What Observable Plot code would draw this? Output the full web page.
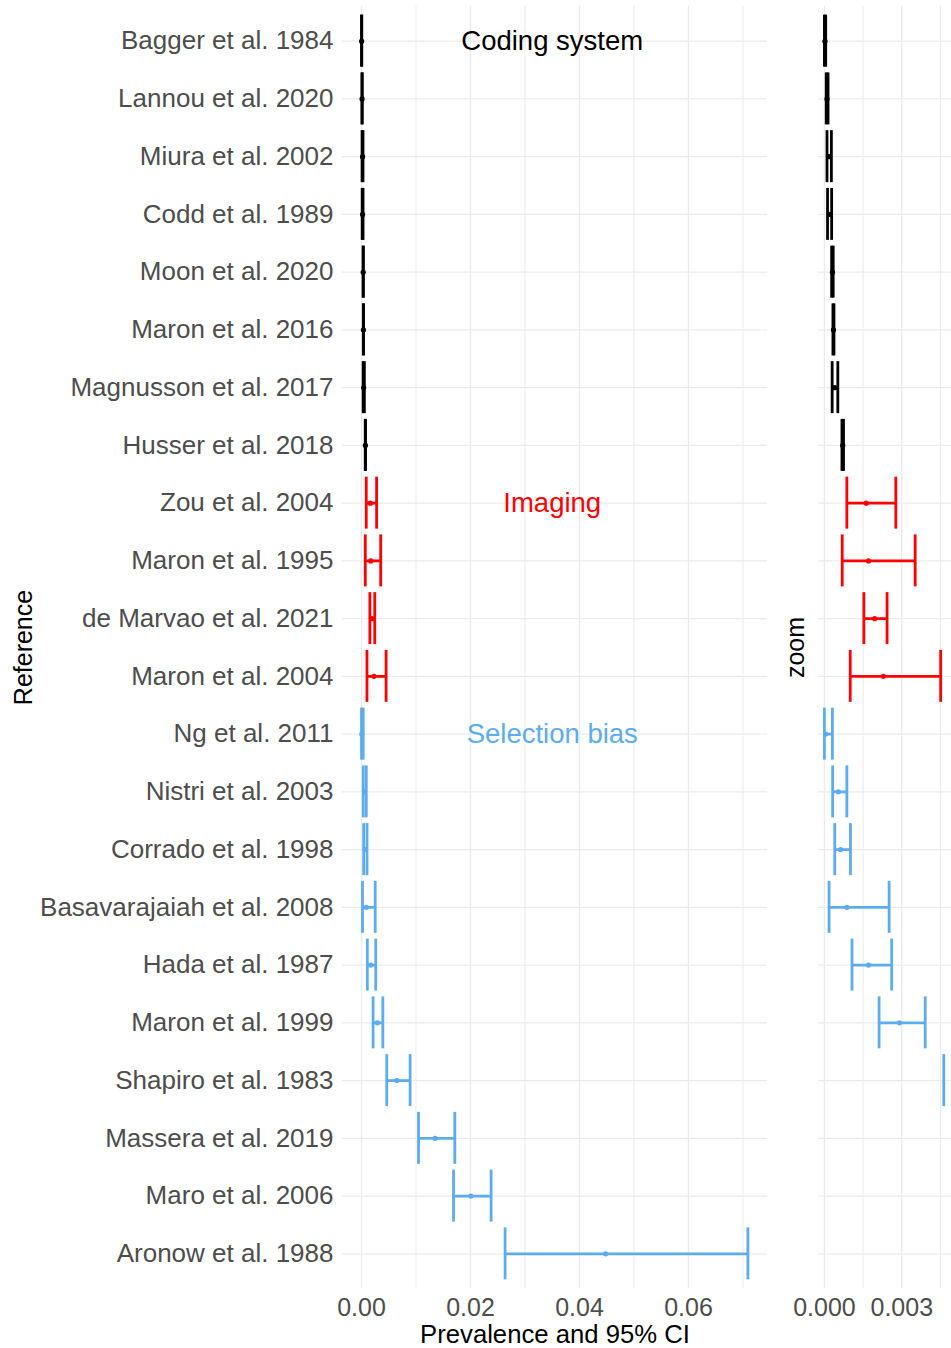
<!DOCTYPE html>
<html>
<head>
<meta charset="utf-8">
<script src="https://cdn.jsdelivr.net/npm/d3@7"></script>
<script src="https://cdn.jsdelivr.net/npm/@observablehq/plot@0.6"></script>
<style>
  html, body { margin: 0; padding: 0; background: #fff; }
  #chart { position: relative; width: 951px; height: 1348px; overflow: hidden; background: #fff; }
  #main { position: absolute; left: 0; top: 0; }
  #zoom { position: absolute; left: 790px; top: 0; }
</style>
</head>
<body>
<div id="chart"><div id="main"></div><div id="zoom"></div></div>
<script>
// Studies, top to bottom
const refs = [
  "Bagger et al. 1984", "Lannou et al. 2020", "Miura et al. 2002", "Codd et al. 1989",
  "Moon et al. 2020", "Maron et al. 2016", "Magnusson et al. 2017", "Husser et al. 2018",
  "Zou et al. 2004", "Maron et al. 1995", "de Marvao et al. 2021", "Maron et al. 2004",
  "Ng et al. 2011", "Nistri et al. 2003", "Corrado et al. 1998", "Basavarajaiah et al. 2008",
  "Hada et al. 1987", "Maron et al. 1999", "Shapiro et al. 1983", "Massera et al. 2019",
  "Maro et al. 2006", "Aronow et al. 1988"
];
const groups = [
  "Coding system", "Coding system", "Coding system", "Coding system",
  "Coding system", "Coding system", "Coding system", "Coding system",
  "Imaging", "Imaging", "Imaging", "Imaging",
  "Selection bias", "Selection bias", "Selection bias", "Selection bias",
  "Selection bias", "Selection bias", "Selection bias", "Selection bias",
  "Selection bias", "Selection bias"
];
// Prevalence estimate and 95% CI bounds
const prevalence = [
  0.00002, 0.00010, 0.00019, 0.00020, 0.00031, 0.00035, 0.00040, 0.00071,
  0.00162, 0.00171, 0.00195, 0.00229,
  0.00005, 0.00054, 0.00063, 0.00087, 0.00171, 0.00291, 0.00648, 0.01350, 0.02005, 0.04480
];
const ciLow = [
  0.00000, 0.00007, 0.00010, 0.00012, 0.00028, 0.00033, 0.00030, 0.00068,
  0.00087, 0.00069, 0.00153, 0.00100,
  0.00000, 0.00032, 0.00040, 0.00018, 0.00107, 0.00212, 0.00463, 0.01046, 0.01688, 0.02635
];
const ciHigh = [
  0.00005, 0.00014, 0.00027, 0.00028, 0.00034, 0.00037, 0.00052, 0.00074,
  0.00277, 0.00352, 0.00243, 0.00451,
  0.00031, 0.00087, 0.00101, 0.00251, 0.00261, 0.00391, 0.00892, 0.01712, 0.02378, 0.07090
];

const groupNames = ["Coding system", "Imaging", "Selection bias"];
const groupColors = ["#000000", "#FF0000", "#5CACEE"];
// Group labels sit on the first row of each group
const annotationRefs = ["Bagger et al. 1984", "Zou et al. 2004", "Ng et al. 2011"];
const annotationX = 0.035;

const mainDomain = [-0.00349, 0.0745];
const mainTicks = [0, 0.02, 0.04, 0.06];
const mainMinor = [0.01, 0.03, 0.05, 0.07];
const zoomDomain = [-0.00023, 0.00493];
const zoomTicks = [0, 0.003];
const zoomMinor = [0.0015, 0.0045];

const data = refs.map((ref, i) => ({
  ref, group: groups[i], est: prevalence[i], lo: ciLow[i], hi: ciHigh[i]
}));
const annotations = groupNames.map((g, i) => ({ label: g, group: g, ref: annotationRefs[i] }));

const font = "'Liberation Sans', Arial, Helvetica, sans-serif";
const grid = "#EBEBEB";
const lw = 2.8;

const yScale = { type: "band", domain: refs, paddingInner: 0.1, paddingOuter: 0.15, round: false, label: null };
const colorScale = { type: "ordinal", domain: groupNames, range: groupColors };

function errorMarks(bars, lows, highs, dots) {
  return [
    Plot.ruleY(bars, { y: "ref", x1: "lo", x2: "hi", stroke: "group", strokeWidth: lw }),
    Plot.tickX(lows, { y: "ref", x: "lo", stroke: "group", strokeWidth: lw }),
    Plot.tickX(highs, { y: "ref", x: "hi", stroke: "group", strokeWidth: lw }),
    Plot.dot(dots, { y: "ref", x: "est", fill: "group", r: 2.6, stroke: null })
  ];
}

// Full-range panel
const main = Plot.plot({
  width: 790, height: 1348,
  marginLeft: 342, marginRight: 23, marginTop: 6, marginBottom: 60,
  style: { fontFamily: font, fontSize: "26px", color: "#4D4D4D", background: "white" },
  x: { domain: mainDomain, label: null },
  y: yScale,
  color: colorScale,
  marks: [
    Plot.ruleX(mainMinor, { stroke: grid, strokeWidth: 1 }),
    Plot.ruleX(mainTicks, { stroke: grid, strokeWidth: 1.3 }),
    Plot.ruleY(refs, { y: d => d, stroke: grid, strokeWidth: 1.3 }),
    ...errorMarks(data, data, data, data),
    Plot.text(annotations, { x: () => annotationX, y: "ref", text: "label", fill: "group", fontSize: 27.5 }),
    Plot.axisX({ ticks: mainTicks, tickFormat: d3.format(".2f"), tickSize: 0, tickPadding: 10, fontSize: 25, label: null }),
    Plot.axisY({ tickSize: 0, tickPadding: 9, fontSize: 26, label: null }),
    Plot.text(["Prevalence and 95% CI"], { frameAnchor: "bottom", dy: 54, fill: "black", fontSize: 25.7 }),
    Plot.text(["Reference"], { frameAnchor: "left", textAnchor: "middle", dx: -319, rotate: -90, fill: "black", fontSize: 25 })
  ]
});
document.getElementById("main").appendChild(main);

// Zoomed panel: only the parts that fall inside its range are drawn
const zmax = zoomDomain[1];
const zBars = data.filter(d => d.hi <= zmax);
const zLows = data.filter(d => d.lo <= zmax);
const zHighs = data.filter(d => d.hi <= zmax);
const zDots = data.filter(d => d.est <= zmax);

const zoom = Plot.plot({
  width: 161, height: 1348,
  marginLeft: 28, marginRight: 0, marginTop: 6, marginBottom: 60,
  style: { fontFamily: font, fontSize: "25px", color: "#4D4D4D", background: "white", overflow: "visible" },
  x: { domain: zoomDomain, label: null },
  y: { ...yScale, axis: null },
  color: colorScale,
  marks: [
    Plot.ruleX(zoomMinor, { stroke: grid, strokeWidth: 1 }),
    Plot.ruleX(zoomTicks, { stroke: grid, strokeWidth: 1.3 }),
    Plot.ruleY(refs, { y: d => d, stroke: grid, strokeWidth: 1.3 }),
    ...errorMarks(zBars, zLows, zHighs, zDots),
    Plot.axisX({ ticks: zoomTicks, tickFormat: d3.format(".3f"), tickSize: 0, tickPadding: 10, fontSize: 25, label: null }),
    Plot.text(["zoom"], { frameAnchor: "left", textAnchor: "middle", dx: -22.7, rotate: -90, fill: "black", fontSize: 25 })
  ]
});
document.getElementById("zoom").appendChild(zoom);
</script>
</body>
</html>
